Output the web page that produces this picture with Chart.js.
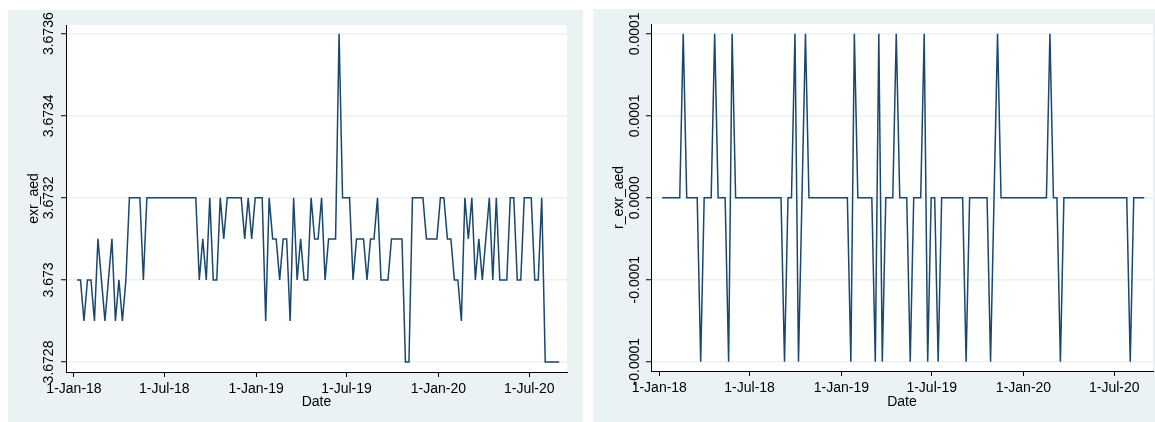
<!DOCTYPE html>
<html>
<head>
<meta charset="utf-8">
<script src="https://cdn.jsdelivr.net/npm/chart.js@4.4.1/dist/chart.umd.min.js"></script>
<style>
  html, body { margin: 0; padding: 0; background: #ffffff; }
  body { width: 1155px; height: 422px; position: relative; overflow: hidden; }
  .panel { position: absolute; background: #eaf2f3; }
  #panelLevel { left: 8px; top: 10px; width: 575px; height: 412px; }
  #panelReturn { left: 593px; top: 9px; width: 562px; height: 413px; }
  canvas { display: block; }
</style>
</head>
<body>
<div class="panel" id="panelLevel"><canvas id="chartLevel" width="575" height="412"></canvas></div>
<div class="panel" id="panelReturn"><canvas id="chartReturn" width="562" height="413"></canvas></div>
<script>
// Weekly observations: first date and number of weeks
const firstObsDate = '2018-01-07';
const obsCount = 139;

// AED exchange rate, one value per week
const exrAed = [
  3.6730, 3.6730, 3.6729, 3.6730, 3.6730, 3.6729, 3.6731, 3.6730, 3.6729, 3.6730,
  3.6731, 3.6729, 3.6730, 3.6729, 3.6730, 3.6732, 3.6732, 3.6732, 3.6732, 3.6730,
  3.6732, 3.6732, 3.6732, 3.6732, 3.6732, 3.6732, 3.6732, 3.6732, 3.6732, 3.6732,
  3.6732, 3.6732, 3.6732, 3.6732, 3.6732, 3.6730, 3.6731, 3.6730, 3.6732, 3.6730,
  3.6730, 3.6732, 3.6731, 3.6732, 3.6732, 3.6732, 3.6732, 3.6732, 3.6731, 3.6732,
  3.6731, 3.6732, 3.6732, 3.6732, 3.6729, 3.6732, 3.6731, 3.6731, 3.6730, 3.6731,
  3.6731, 3.6729, 3.6732, 3.6730, 3.6731, 3.6730, 3.6730, 3.6732, 3.6731, 3.6731,
  3.6732, 3.6730, 3.6731, 3.6731, 3.6731, 3.6736, 3.6732, 3.6732, 3.6732, 3.6730,
  3.6731, 3.6731, 3.6731, 3.6730, 3.6731, 3.6731, 3.6732, 3.6730, 3.6730, 3.6730,
  3.6731, 3.6731, 3.6731, 3.6731, 3.6728, 3.6728, 3.6732, 3.6732, 3.6732, 3.6732,
  3.6731, 3.6731, 3.6731, 3.6731, 3.6732, 3.6732, 3.6731, 3.6731, 3.6730, 3.6730,
  3.6729, 3.6732, 3.6731, 3.6732, 3.6730, 3.6731, 3.6730, 3.6731, 3.6732, 3.6730,
  3.6732, 3.6730, 3.6730, 3.6730, 3.6732, 3.6732, 3.6730, 3.6730, 3.6732, 3.6732,
  3.6732, 3.6730, 3.6730, 3.6732, 3.6728, 3.6728, 3.6728, 3.6728, 3.6728
];

// Weekly return of the AED rate
const rExrAed = [
  0, 0, 0, 0, 0, 0, 0.000109, 0, 0, 0,
  0, -0.000109, 0, 0, 0, 0.000109, 0, 0, 0, -0.000109,
  0.000109, 0, 0, 0, 0, 0, 0, 0, 0, 0,
  0, 0, 0, 0, 0, -0.000109, 0, 0, 0.000109, -0.000109,
  0, 0.000109, 0, 0, 0, 0, 0, 0, 0, 0,
  0, 0, 0, 0, -0.000109, 0.000109, 0, 0, 0, 0,
  0, -0.000109, 0.000109, -0.000109, 0, 0, 0, 0.000109, 0, 0,
  0, -0.000109, 0, 0, 0, 0.000109, -0.000109, 0, 0, -0.000109,
  0, 0, 0, 0, 0, 0, 0, -0.000109, 0, 0,
  0, 0, 0, 0, -0.000109, 0, 0.000109, 0, 0, 0,
  0, 0, 0, 0, 0, 0, 0, 0, 0, 0,
  0, 0.000109, 0, 0, -0.000109, 0, 0, 0, 0, 0,
  0, 0, 0, 0, 0, 0, 0, 0, 0, 0,
  0, 0, 0, 0, -0.000109, 0, 0, 0, 0
];

// Date axis ticks
const xTickDates = ['2018-01-01', '2018-07-01', '2019-01-01', '2019-07-01', '2020-01-01', '2020-07-01'];
const xTickLabels = ['1-Jan-18', '1-Jul-18', '1-Jan-19', '1-Jul-19', '1-Jan-20', '1-Jul-20'];

// Value axis ticks
const exrTicks = [3.6728, 3.6730, 3.6732, 3.6734, 3.6736];
const exrTickLabels = ['3.6728', '3.673', '3.6732', '3.6734', '3.6736'];
const rTicks = [-0.000109, -0.0000545, 0, 0.0000545, 0.000109];
const rTickLabels = ['-0.0001', '-0.0001', '0.0000', '0.0001', '0.0001'];

const DAY_MS = 86400000;
const origin = Date.parse('2018-01-01');
const dayOf = s => (Date.parse(s) - origin) / DAY_MS;

// x positions (days since 1 Jan 2018) of the weekly observations
const obsDays = [];
for (let i = 0; i < obsCount; i++) obsDays.push(dayOf(firstObsDate) + 7 * i);

Chart.defaults.font.family = "'Liberation Sans', Arial, Helvetica, sans-serif";
Chart.defaults.font.size = 14;
Chart.defaults.color = '#000';

// white plot region on the tinted graph region
const plotRegion = {
  id: 'plotRegion',
  beforeDraw(chart) {
    const { ctx, chartArea: a } = chart;
    ctx.save();
    ctx.fillStyle = '#ffffff';
    ctx.fillRect(a.left, a.top, a.right - a.left, a.bottom - a.top);
    ctx.restore();
  }
};

function drawSeries(canvasId, values, yTicks, yLabels, yMin, yMax, yTitle, cfg) {
  const points = values.map((v, i) => ({ x: obsDays[i], y: v }));
  return new Chart(document.getElementById(canvasId), {
    type: 'line',
    data: {
      datasets: [{
        data: points,
        borderColor: '#1a476f',
        borderWidth: 1.5,
        pointRadius: 0,
        tension: 0,
        fill: false
      }]
    },
    options: {
      responsive: false,
      devicePixelRatio: 1,
      animation: false,
      events: [],
      layout: { padding: { left: 0, top: 15, right: cfg.padRight, bottom: 0 } },
      plugins: { legend: { display: false }, tooltip: { enabled: false } },
      scales: {
        x: {
          type: 'linear',
          min: cfg.xMin,
          max: cfg.xMax,
          afterBuildTicks: s => { s.ticks = xTickDates.map(d => ({ value: dayOf(d) })); },
          afterFit: s => { s.height = cfg.xAxisHeight; },
          grid: { drawOnChartArea: false, drawTicks: true, tickLength: 5, tickColor: '#000', tickWidth: 1 },
          border: { display: true, color: '#000', width: 1 },
          ticks: {
            autoSkip: false, minRotation: 0, maxRotation: 0, padding: 4,
            color: '#000', font: { size: 14 },
            callback: (v, i) => xTickLabels[i]
          },
          title: { display: true, text: 'Date', color: '#000', font: { size: 14 }, padding: { top: 0, bottom: 11 } }
        },
        y: {
          type: 'linear',
          min: yMin,
          max: yMax,
          afterBuildTicks: s => { s.ticks = yTicks.map(v => ({ value: v })); },
          afterFit: s => { s.width = 58; },
          grid: { color: '#eaf2f3', lineWidth: 1.5, drawTicks: true, tickLength: 5, tickColor: '#000', tickWidth: 1 },
          border: { display: true, color: '#000', width: 1 },
          ticks: {
            autoSkip: false, minRotation: 90, maxRotation: 90,
            crossAlign: 'center', padding: cfg.yTickPad,
            color: '#000', font: { size: 14 },
            callback: (v, i) => yLabels[i]
          },
          title: { display: true, text: yTitle, color: '#000', font: { size: 14 }, padding: { top: 17.6, bottom: 0 } }
        }
      }
    },
    plugins: [plotRegion]
  });
}

drawSeries('chartLevel', exrAed, exrTicks, exrTickLabels, 3.6727756, 3.6736212, 'exr_aed',
  { padRight: 16, xMin: -16.0, xMax: 987.6, xAxisHeight: 50, yTickPad: -9.6 });

drawSeries('chartReturn', rExrAed, rTicks, rTickLabels, -0.0001152, 0.0001155, 'r_exr_aed',
  { padRight: 2, xMin: -16.6, xMax: 989.6, xAxisHeight: 51, yTickPad: -12.6 });
</script>
</body>
</html>
